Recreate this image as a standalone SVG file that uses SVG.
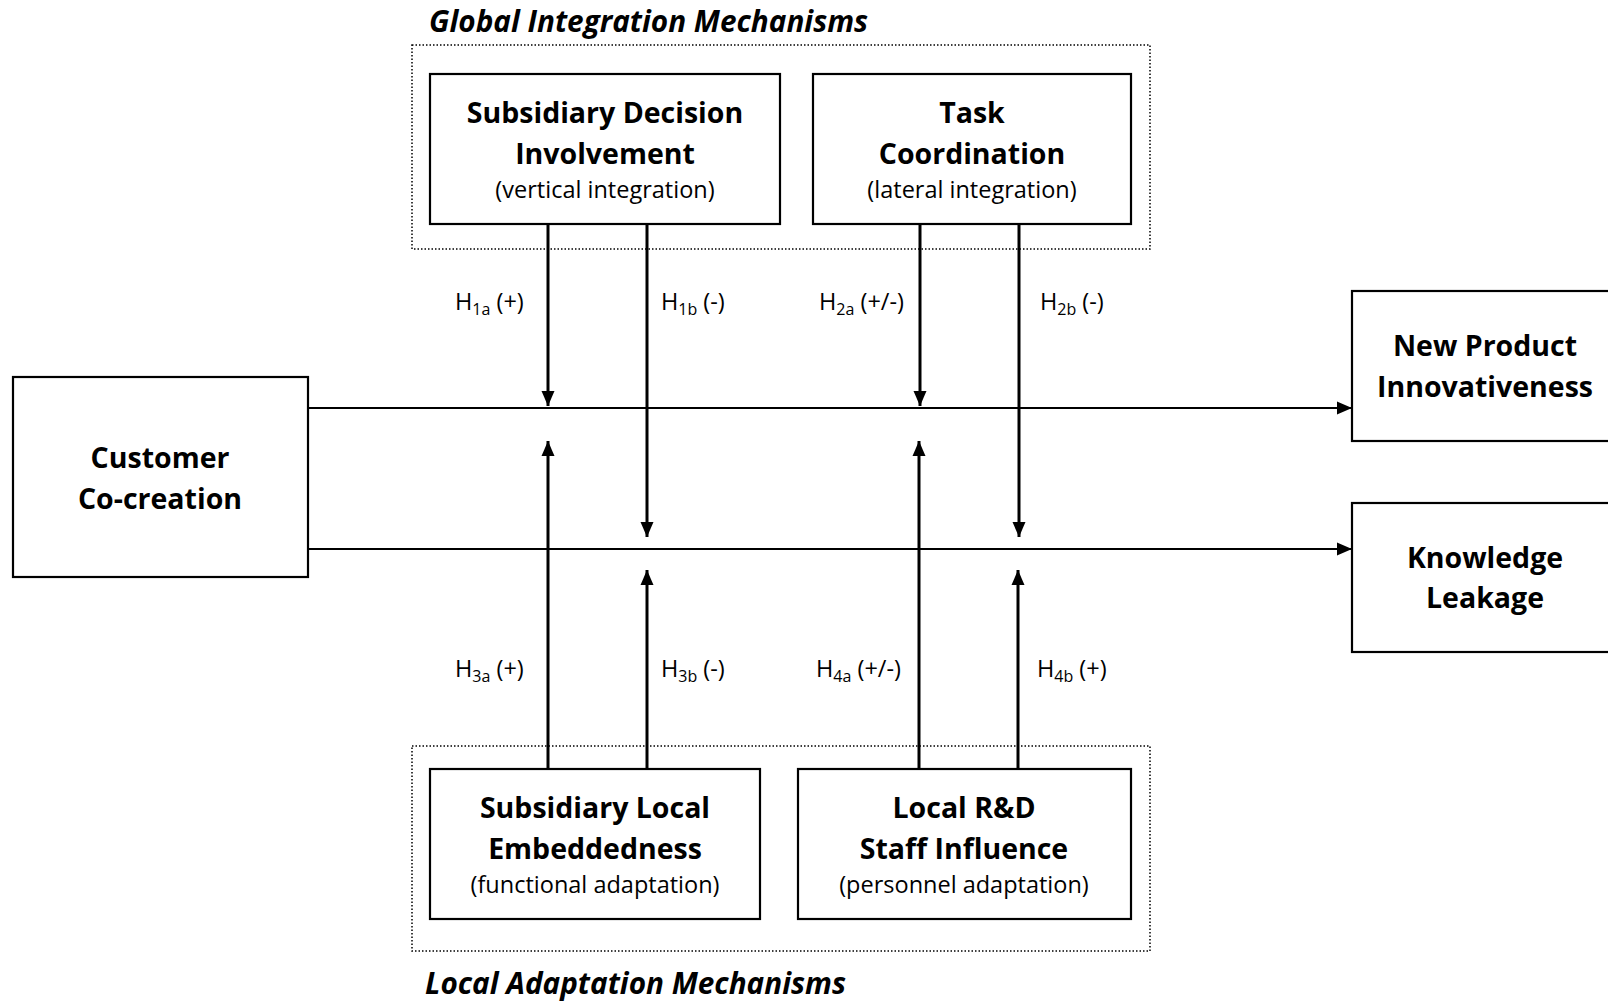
<svg xmlns="http://www.w3.org/2000/svg" width="1608" height="1001" viewBox="0 0 1608 1001">
<style>
  .box { fill: #fff; stroke: #000; stroke-width: 2.2; }
  .grp { fill: none; stroke: #000; stroke-width: 1.5; stroke-dasharray: 1.5 2; }
  .b { font-family: "Open Sans", "Noto Sans", sans-serif; font-weight: 700; font-size: 28.5px; fill: #000; text-anchor: middle; }
  .r { font-family: "Open Sans", "Noto Sans", sans-serif; font-weight: 400; font-size: 23.5px; fill: #000; text-anchor: middle; }
  .t { font-family: "Open Sans", "Noto Sans", sans-serif; font-weight: 700; font-style: italic; font-size: 29.7px; fill: #000; }
  .h { font-family: "Open Sans", "Noto Sans", sans-serif; font-weight: 400; font-size: 23.5px; fill: #000; }
  .sub { font-size: 16px; }
  .v { stroke: #000; stroke-width: 3; fill: none; }
  .hz { stroke: #000; stroke-width: 2.2; fill: none; }
</style>
<defs>
  <marker id="ah" markerUnits="userSpaceOnUse" markerWidth="16" markerHeight="16" viewBox="0 0 16 16" refX="15" refY="8" orient="auto">
    <path d="M0,1.5 L15,8 L0,14.5 Z" fill="#000"/>
  </marker>
</defs>
<rect width="1608" height="1001" fill="#fff"/>

<g id="global-group">
  <rect class="grp" x="412" y="45" width="738" height="204"/>
  <text class="t" x="429" y="32">Global Integration Mechanisms</text>
</g>
<g id="local-group">
  <rect class="grp" x="412" y="746" width="738" height="205"/>
  <text class="t" x="425" y="994">Local Adaptation Mechanisms</text>
</g>

<g id="connectors">
  <line class="hz" x1="308" y1="408" x2="1352" y2="408" marker-end="url(#ah)"/>
  <line class="hz" x1="308" y1="549" x2="1352" y2="549" marker-end="url(#ah)"/>
  <line class="v" x1="548" y1="224" x2="548" y2="406" marker-end="url(#ah)"/>
  <line class="v" x1="647" y1="224" x2="647" y2="537" marker-end="url(#ah)"/>
  <line class="v" x1="920" y1="224" x2="920" y2="406" marker-end="url(#ah)"/>
  <line class="v" x1="1019" y1="224" x2="1019" y2="537" marker-end="url(#ah)"/>
  <line class="v" x1="548" y1="769" x2="548" y2="441" marker-end="url(#ah)"/>
  <line class="v" x1="647" y1="769" x2="647" y2="570" marker-end="url(#ah)"/>
  <line class="v" x1="919" y1="769" x2="919" y2="441" marker-end="url(#ah)"/>
  <line class="v" x1="1018" y1="769" x2="1018" y2="570" marker-end="url(#ah)"/>
  <text class="h" x="455" y="310">H<tspan class="sub" dy="5">1a</tspan><tspan dy="-5"> (+)</tspan></text>
  <text class="h" x="661" y="310">H<tspan class="sub" dy="5">1b</tspan><tspan dy="-5"> (-)</tspan></text>
  <text class="h" x="819" y="310">H<tspan class="sub" dy="5">2a</tspan><tspan dy="-5"> (+/-)</tspan></text>
  <text class="h" x="1040" y="310">H<tspan class="sub" dy="5">2b</tspan><tspan dy="-5"> (-)</tspan></text>
  <text class="h" x="455" y="677">H<tspan class="sub" dy="5">3a</tspan><tspan dy="-5"> (+)</tspan></text>
  <text class="h" x="661" y="677">H<tspan class="sub" dy="5">3b</tspan><tspan dy="-5"> (-)</tspan></text>
  <text class="h" x="816" y="677">H<tspan class="sub" dy="5">4a</tspan><tspan dy="-5"> (+/-)</tspan></text>
  <text class="h" x="1037" y="677">H<tspan class="sub" dy="5">4b</tspan><tspan dy="-5"> (+)</tspan></text>
</g>

<g id="sdi">
  <rect class="box" x="430" y="74" width="350" height="150"/>
  <text class="b" x="605" y="123">Subsidiary Decision</text>
  <text class="b" x="605" y="164">Involvement</text>
  <text class="r" x="605" y="198">(vertical integration)</text>
</g>
<g id="task">
  <rect class="box" x="813" y="74" width="318" height="150"/>
  <text class="b" x="972" y="123">Task</text>
  <text class="b" x="972" y="164">Coordination</text>
  <text class="r" x="972" y="198">(lateral integration)</text>
</g>
<g id="customer">
  <rect class="box" x="13" y="377" width="295" height="200"/>
  <text class="b" x="160" y="468">Customer</text>
  <text class="b" x="160" y="509">Co-creation</text>
</g>
<g id="npi">
  <rect class="box" x="1352" y="291" width="280" height="150"/>
  <text class="b" x="1485" y="356">New Product</text>
  <text class="b" x="1485" y="397">Innovativeness</text>
</g>
<g id="kl">
  <rect class="box" x="1352" y="503" width="280" height="149"/>
  <text class="b" x="1485" y="568">Knowledge</text>
  <text class="b" x="1485" y="608">Leakage</text>
</g>
<g id="sle">
  <rect class="box" x="430" y="769" width="330" height="150"/>
  <text class="b" x="595" y="818">Subsidiary Local</text>
  <text class="b" x="595" y="859">Embeddedness</text>
  <text class="r" x="595" y="893">(functional adaptation)</text>
</g>
<g id="rd">
  <rect class="box" x="798" y="769" width="333" height="150"/>
  <text class="b" x="964" y="818">Local R&amp;D</text>
  <text class="b" x="964" y="859">Staff Influence</text>
  <text class="r" x="964" y="893">(personnel adaptation)</text>
</g>
</svg>
